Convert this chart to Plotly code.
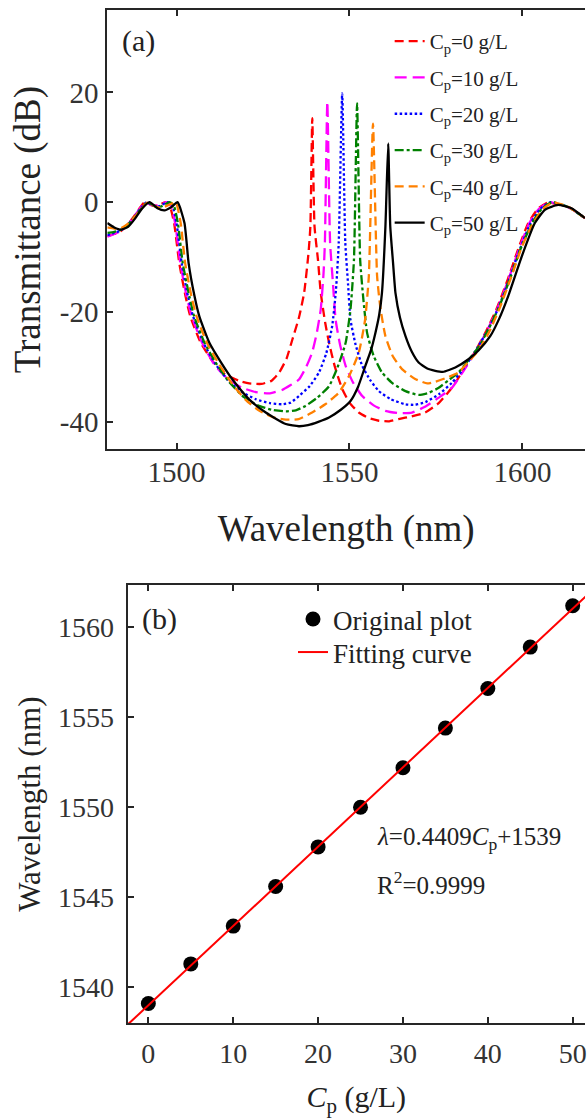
import plotly.graph_objects as go

W, H = 587, 1118

# ---------------- Panel (a) data: transmission spectra ----------------
x_c0 = [1480, 1482, 1484, 1486, 1488, 1490.8, 1493, 1494.5, 1496.8, 1498, 1499.3, 1500.8, 1502.6, 1504,
        1507, 1510.5, 1514, 1518, 1521, 1524.5, 1527.5, 1529.7, 1531.8, 1533.5, 1535.4, 1536.9, 1538.2,
        1538.7, 1539.25, 1539.9, 1540.9, 1541.7, 1543, 1544.1, 1545.8, 1547.9, 1550, 1552.7, 1555.5,
        1558.5, 1561.5, 1564.2, 1568, 1571.9, 1575.8, 1579.6, 1583, 1586.5, 1589.5, 1592.5, 1595.8,
        1598.8, 1601.7, 1604.5, 1607.5, 1609.5, 1612, 1614.2, 1618.1]
y_c0 = [-6.2, -5.8, -5.2, -4.0, -2.3, 0, -0.6, -0.6, 0, -0.6, -3.8, -11.1, -17.1, -20.8,
        -25.6, -29.0, -31.3, -32.5, -33.0, -33.1, -32.5, -31.0, -28.5, -25.0, -21.0, -16.5, -9.0,
        -4.4, 15.3, -4.4, -10.5, -16.5, -22.0, -25.6, -30.0, -34.0, -36.5, -38.3, -39.3,
        -39.8, -39.9, -39.5, -39.0, -38.3, -36.6, -33.8, -30.5, -27.0, -23.5, -19.5, -14.0,
        -8.5, -3.8, -1.2, 0, -0.3, -0.6, -1.2, -2.9]

x_c10 = [1480, 1482, 1484, 1486, 1488, 1491, 1493, 1494.7, 1497, 1498.3, 1499.6, 1501.1, 1502.9, 1504.4,
         1507.4, 1511, 1515, 1519, 1523, 1527, 1530.5, 1533, 1535.4, 1537.5, 1539.2, 1540.5, 1541.7,
         1542.5, 1542.9, 1543.6, 1544.4, 1545.2, 1546, 1547.3, 1548.9, 1551, 1553.7, 1557, 1560.4,
         1564, 1568.1, 1572, 1575.8, 1579.6, 1583, 1586.5, 1589.5, 1592.6, 1595.9, 1599, 1602,
         1604.8, 1607.8, 1610, 1612, 1614.2, 1618.1]
y_c10 = [-6.3, -5.8, -5.2, -4.0, -2.4, 0, -0.6, -0.6, 0, -0.6, -3.8, -11.1, -17.1, -20.8,
         -25.6, -29.6, -32.3, -33.8, -34.6, -34.8, -34.2, -33.3, -32.3, -30.0, -27.4, -24.0, -19.5,
         -13.0, -7.4, 18.3, -7.4, -14.5, -21.4, -26.0, -29.8, -32.8, -35.3, -37.0, -38.0,
         -38.4, -38.3, -37.2, -35.6, -33.8, -30.7, -27.2, -23.7, -19.7, -14.2, -8.6, -3.8,
         -1.2, 0, -0.3, -0.6, -1.2, -2.9]

x_c20 = [1480, 1482, 1484, 1486, 1488, 1491.3, 1493.3, 1495, 1497.5, 1498.8, 1500, 1501.5, 1503.3, 1504.8,
         1507.8, 1511.3, 1515, 1519, 1523, 1527, 1530.5, 1533, 1535.4, 1538.5, 1541.2, 1543.3, 1545,
         1546.1, 1546.9, 1547.9, 1548.8, 1549.6, 1550.3, 1551.8, 1553.7, 1556, 1558.5, 1562, 1566.2,
         1569, 1572, 1575.8, 1579.6, 1583, 1586.5, 1589.8, 1592.9, 1596.2, 1599.3, 1602.4, 1605.2,
         1608.1, 1610.3, 1612.5, 1614.2, 1618.1]
y_c20 = [-6.0, -5.6, -5.1, -4.1, -2.5, 0, -0.6, -0.7, 0, -0.6, -3.8, -11.1, -17.1, -20.8,
         -25.6, -29.5, -32.5, -34.6, -35.9, -36.6, -36.8, -36.5, -35.3, -33.5, -31.0, -27.5, -22.6,
         -16.0, -7.4, 19.8, -7.4, -15.0, -21.4, -26.0, -29.8, -32.4, -34.4, -35.9, -36.8,
         -36.9, -36.4, -35.0, -32.9, -30.3, -27.0, -23.5, -19.5, -14.0, -8.5, -3.8, -1.2,
         0, -0.3, -0.7, -1.2, -2.9]

x_c30 = [1480, 1482, 1484, 1486, 1488, 1491.6, 1493.6, 1495.4, 1498, 1499.2, 1500.4, 1501.8, 1503.7, 1505.1,
         1508.1, 1511.6, 1515.3, 1519.5, 1523.5, 1527.5, 1531.6, 1534.5, 1537.3, 1540.7, 1544.1, 1546.6,
         1548.9, 1550.3, 1551.3, 1552.2, 1553.1, 1554, 1555.1, 1557, 1559.4, 1562.5, 1566.2, 1570, 1573,
         1575.8, 1578.5, 1581.5, 1584.5, 1587.5, 1590.3, 1593.3, 1596.5, 1599.6, 1602.8, 1605.6, 1608.5,
         1610.5, 1612.5, 1614.2, 1618.1]
y_c30 = [-5.6, -5.4, -5.0, -4.1, -2.6, 0, -0.7, -0.8, 0, -0.6, -3.8, -11.1, -17.1, -20.8,
         -25.6, -29.5, -32.8, -35.5, -37.0, -37.8, -38.1, -37.9, -37.1, -35.6, -33.5, -30.0,
         -25.6, -19.5, -10.5, 18.0, -10.5, -17.5, -23.8, -28.0, -31.0, -33.0, -34.4, -35.1, -34.7,
         -33.8, -32.5, -31.0, -28.7, -26.2, -23.0, -19.0, -13.8, -8.3, -3.8, -1.2, 0,
         -0.3, -0.7, -1.2, -2.9]

x_c40 = [1480, 1482, 1484, 1486, 1488, 1491.8, 1493.8, 1495.8, 1498.5, 1499.8, 1501.2, 1502.5, 1504.3, 1505.8,
         1508.8, 1512.3, 1516, 1520, 1524, 1528, 1531.6, 1535.3, 1539.2, 1543, 1546.9, 1550, 1552.7,
         1554.5, 1555.6, 1556.8, 1558, 1559, 1560.4, 1562.5, 1565.2, 1569, 1572.5, 1574.8, 1578, 1581.5,
         1584.5, 1587.3, 1590.5, 1593.6, 1596.8, 1599.8, 1603.1, 1606, 1608.9, 1610.8, 1612.8, 1614.2, 1618.1]
y_c40 = [-4.6, -4.8, -4.7, -3.9, -2.6, 0, -0.8, -1.0, -0.3, 0, -3.8, -11.1, -17.1, -20.8,
         -25.6, -29.5, -33.0, -36.0, -38.0, -39.2, -39.6, -39.5, -38.3, -36.8, -34.7, -31.5, -27.4,
         -21.5, -13.5, 14.3, -13.5, -19.5, -24.4, -28.0, -30.4, -32.2, -33.0, -32.7, -32.0, -31.0,
         -29.0, -27.0, -23.5, -19.0, -13.6, -8.2, -3.8, -1.2, 0, -0.3, -0.7, -1.2, -2.9]

x_c50 = [1480, 1482, 1484, 1486, 1488, 1490, 1492.2, 1494.5, 1496.5, 1498.5, 1500.3, 1502.3, 1503.5, 1505.2,
         1506.6, 1509.5, 1512.9, 1516.2, 1521, 1525.8, 1531.6, 1535.4, 1538, 1541, 1544.1, 1547.5, 1550.3,
         1552.5, 1554.6, 1556.2, 1557.5, 1558.6, 1559.4, 1560.4, 1561.2, 1561.8, 1562.6, 1563.3, 1564.6,
         1566.2, 1568, 1570, 1572.5, 1574.8, 1577, 1580.6, 1584.4, 1587.3, 1590.7, 1593.3, 1595.9,
         1599.8, 1603.6, 1606.5, 1610.3, 1614.2, 1618.1]
y_c50 = [-3.8, -4.6, -5.0, -4.5, -3.0, -1.2, 0, -1.1, -1.5, -0.9, 0, -3.8, -11.1, -17.1,
         -20.8, -25.6, -29.2, -32.3, -35.9, -38.3, -40.4, -40.8, -40.6, -40.0, -39.2, -37.8, -36.2,
         -33.6, -29.8, -27.0, -23.8, -20.5, -16.5, -4.4, 10.7, -4.4, -11.0, -16.5, -21.0,
         -24.4, -27.2, -29.2, -30.3, -30.7, -30.9, -30.1, -28.6, -27.0, -24.4, -21.2, -17.1,
         -9.9, -3.8, -1.4, -0.5, -1.1, -2.9]

spec_x = [x_c0, x_c10, x_c20, x_c30, x_c40, x_c50]
spec_y = [y_c0, y_c10, y_c20, y_c30, y_c40, y_c50]
spec_names = ["C<sub>p</sub>=0 g/L", "C<sub>p</sub>=10 g/L", "C<sub>p</sub>=20 g/L",
              "C<sub>p</sub>=30 g/L", "C<sub>p</sub>=40 g/L", "C<sub>p</sub>=50 g/L"]
spec_colors = ["#ff0000", "#ff00ff", "#0000ff", "#008000", "#ff8000", "#000000"]
spec_dash = ["9px,5px", "12px,6px", "2.5px,2.5px", "9px,3px,3px,3px", "9px,5px", "solid"]

a_xticks = [1500, 1550, 1600]
a_yticks = [-40, -20, 0, 20]
a_yticktext = ["-40", "-20", "0", "20"]

# ---------------- Panel (b) data: peak wavelength vs concentration ----------------
cp = [0, 5, 10, 15, 20, 25, 30, 35, 40, 45, 50]
peak_wl = [1539.1, 1541.3, 1543.4, 1545.6, 1547.8, 1550.0, 1552.2, 1554.4, 1556.6, 1558.9, 1561.2]
fit_x = [-2.5, 54.0]
fit_y = [1537.9, 1562.8]
b_xticks = [0, 10, 20, 30, 40, 50]
b_yticks = [1540, 1545, 1550, 1555, 1560]

FONT = "Liberation Serif"
AX = "#262626"

fig = go.Figure()
for i in range(6):
    fig.add_trace(go.Scatter(
        x=spec_x[i], y=spec_y[i], mode="lines", name=spec_names[i],
        line=dict(color=spec_colors[i], width=2.3, dash=spec_dash[i], shape="spline", smoothing=0.5),
        xaxis="x", yaxis="y", legend="legend", legendgroup="g%d" % i))

fig.add_trace(go.Scatter(
    x=cp, y=peak_wl, mode="markers", name="Original plot",
    marker=dict(size=15, color="black"), xaxis="x2", yaxis="y2", legend="legend2"))
fig.add_trace(go.Scatter(
    x=fit_x, y=fit_y, mode="lines", name="Fitting curve",
    line=dict(color="#ff0000", width=2), xaxis="x2", yaxis="y2", legend="legend3"))

def px_x(p):
    return p / W

def px_y(p):
    return 1 - p / H

axis_common = dict(showgrid=False, zeroline=False, showline=True, linewidth=2, linecolor=AX,
                   ticks="inside", ticklen=6, tickwidth=2, tickcolor=AX, ticklabeloverflow="allow")

leg_common = dict(xanchor="left", yanchor="top", bgcolor="rgba(0,0,0,0)", itemwidth=30)

fig.update_layout(
    width=W, height=H, margin=dict(l=0, r=0, t=0, b=0),
    paper_bgcolor="white", plot_bgcolor="white",
    font=dict(family=FONT, color="#222222"),
    xaxis=dict(domain=[px_x(107.7), 1.0], range=[1480, 1618.1], anchor="y",
               tickmode="array", tickvals=a_xticks, mirror="ticks",
               tickfont=dict(size=29, color="#333333"), ticklabelstandoff=-4,
               title=dict(text="Wavelength (nm)", font=dict(size=37), standoff=28),
               **axis_common),
    yaxis=dict(domain=[px_y(449.3), px_y(10)], range=[-45, 35], anchor="x",
               tickmode="array", tickvals=a_yticks, ticktext=a_yticktext,
               tickfont=dict(size=29, color="#333333"), ticklabelstandoff=1,
               title=dict(text="Transmittance (dB)", font=dict(size=37), standoff=8),
               **axis_common),
    xaxis2=dict(domain=[px_x(128), 1.0], range=[-2.45, 51.45], anchor="y2",
                tickmode="array", tickvals=b_xticks, mirror="ticks",
                tickfont=dict(size=28, color="#333333"), ticklabelstandoff=4,
                title=dict(text="<i>C</i><sub>p</sub> (g/L)", font=dict(size=30), standoff=24),
                **axis_common),
    yaxis2=dict(domain=[px_y(1023.3), px_y(585)], range=[1538.0, 1562.35], anchor="x2",
                tickmode="array", tickvals=b_yticks,
                tickfont=dict(size=28, color="#333333"), ticklabelstandoff=6,
                title=dict(text="Wavelength (nm)", font=dict(size=31), standoff=8),
                **axis_common),
    legend=dict(x=px_x(391), y=px_y(21), font=dict(size=21, color="#222222"),
                tracegroupgap=6, **leg_common),
    legend2=dict(x=px_x(294), y=px_y(595), font=dict(size=27, color="#222222"), **leg_common),
    legend3=dict(x=px_x(294), y=px_y(628), font=dict(size=27, color="#222222"), **leg_common),
    annotations=[
        dict(text="(a)", x=px_x(120), y=px_y(41), xref="paper", yref="paper",
             xanchor="left", yanchor="middle", showarrow=False, font=dict(size=30, color="#222222")),
        dict(text="(b)", x=px_x(140), y=px_y(619), xref="paper", yref="paper",
             xanchor="left", yanchor="middle", showarrow=False, font=dict(size=30, color="#222222")),
        dict(text="<i>λ</i>=0.4409<i>C</i><sub>p</sub>+1539", x=px_x(376), y=px_y(838),
             xref="paper", yref="paper", xanchor="left", yanchor="middle", showarrow=False,
             font=dict(size=25, color="#222222")),
        dict(text="R<sup>2</sup>=0.9999", x=px_x(376), y=px_y(883),
             xref="paper", yref="paper", xanchor="left", yanchor="middle", showarrow=False,
             font=dict(size=25, color="#222222")),
    ],
)

fig.write_html("out.html", config={"displayModeBar": False},
               post_script="document.body.style.margin='0';document.body.style.overflow='hidden';")
